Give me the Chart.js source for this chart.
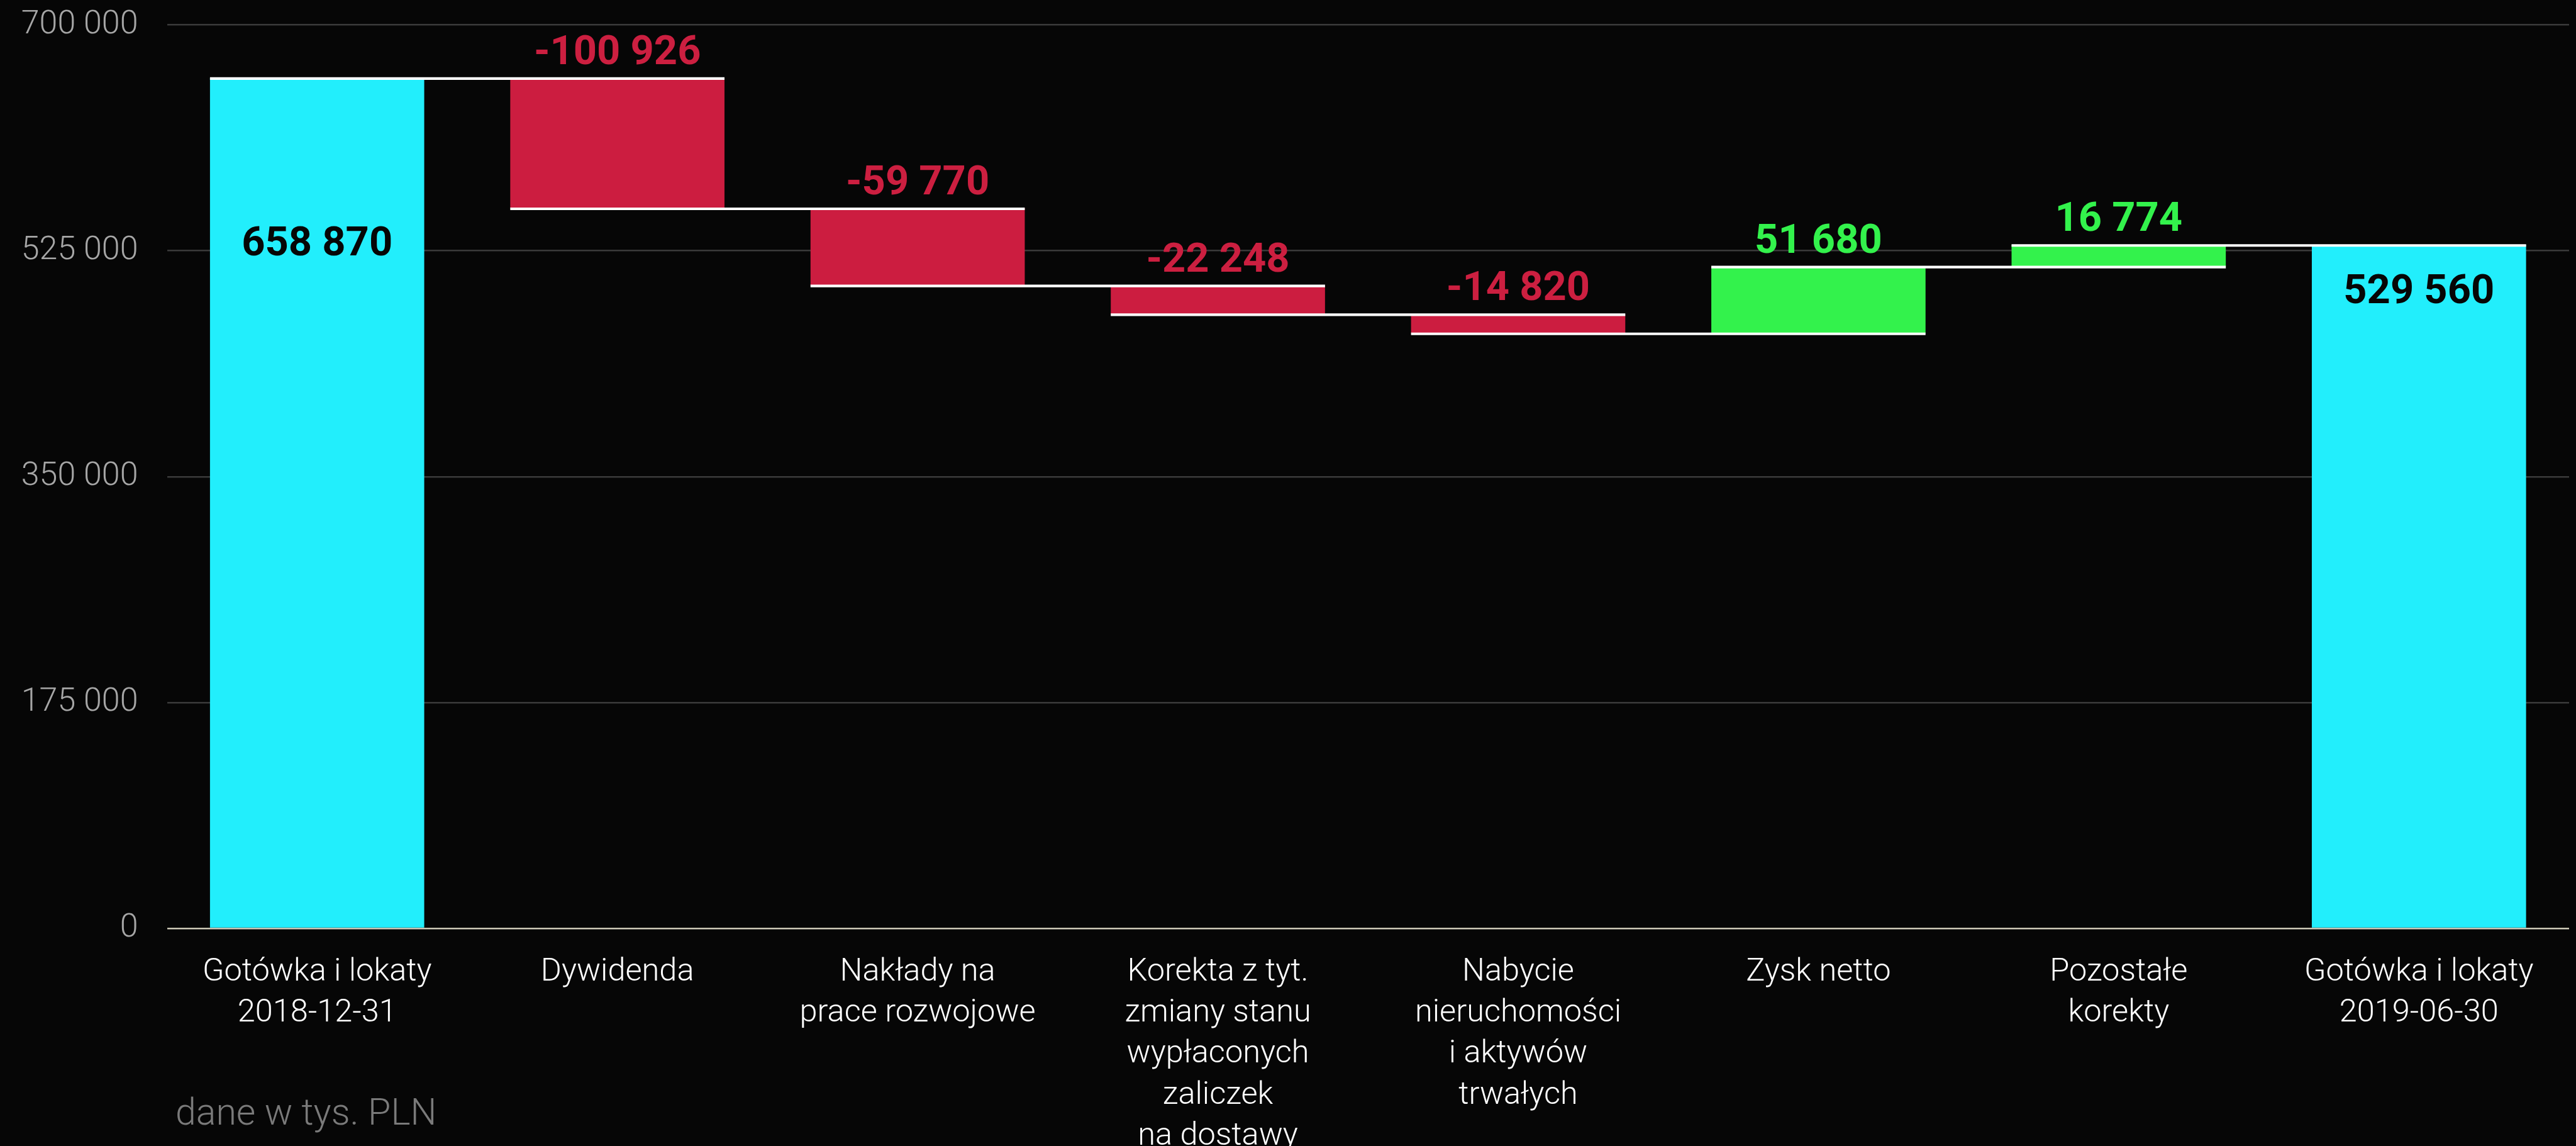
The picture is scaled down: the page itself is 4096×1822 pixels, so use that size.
<!DOCTYPE html>
<html><head><meta charset="utf-8">
<script src="https://cdn.jsdelivr.net/npm/chart.js@4.4.1/dist/chart.umd.min.js"></script>
<style>html,body{margin:0;padding:0;background:#060606;overflow:hidden}canvas{display:block}</style>
</head><body><canvas id="c" width="4096" height="1822"></canvas>
<script>
const categories = [
  ["Gotówka i lokaty", "2018-12-31"],
  ["Dywidenda"],
  ["Nakłady na", "prace rozwojowe"],
  ["Korekta z tyt.", "zmiany stanu", "wypłaconych", "zaliczek", "na dostawy"],
  ["Nabycie", "nieruchomości", "i aktywów", "trwałych"],
  ["Zysk netto"],
  ["Pozostałe", "korekty"],
  ["Gotówka i lokaty", "2019-06-30"]
];
const openingBalance = 658870;
const changes = [-100926, -59770, -22248, -14820, 51680, 16774];
const closingBalance = 529560;
const yTicks = [0, 175000, 350000, 525000, 700000];
const footnote = "dane w tys. PLN";

function fmt(v) {
  const s = String(Math.abs(Math.round(v))).replace(/\B(?=(\d{3})+(?!\d))/g, ' ');
  return (v < 0 ? '-' : '') + s;
}

const values = [openingBalance, ...changes, closingBalance];
const kinds = ['total', ...changes.map(() => 'change'), 'total'];
const ranges = [];
const ends = [];
let run = 0;
values.forEach((v, i) => {
  if (kinds[i] === 'total') { ranges.push([0, v]); run = v; }
  else { ranges.push([run, run + v]); run += v; }
  ends.push(run);
});

const COL_TOTAL = '#22EEFC', COL_NEG = '#CC1D40', COL_POS = '#33F24C';
const colors = values.map((v, i) => kinds[i] === 'total' ? COL_TOTAL : (v < 0 ? COL_NEG : COL_POS));

const waterfallPlugin = {
  id: 'waterfall',
  afterDatasetsDraw(chart) {
    const ctx = chart.ctx;
    const y = chart.scales.y;
    const meta = chart.getDatasetMeta(0);
    ctx.save();
    ctx.strokeStyle = '#ffffff';
    ctx.lineWidth = 4.2;
    for (let i = 0; i < meta.data.length - 1; i++) {
      const a = meta.data[i], b = meta.data[i + 1];
      const py = y.getPixelForValue(ends[i]) + 1;
      ctx.beginPath();
      ctx.moveTo(a.x - a.width / 2, py);
      ctx.lineTo(b.x + b.width / 2, py);
      ctx.stroke();
    }
    ctx.font = 'bold 65px Roboto';
    ctx.textAlign = 'center';
    ctx.textBaseline = 'alphabetic';
    const totalOffsets = [282, 93];
    let ti = 0;
    meta.data.forEach((el, i) => {
      const top = Math.min(el.y, el.base);
      if (kinds[i] === 'total') {
        ctx.fillStyle = '#060606';
        ctx.fillText(fmt(values[i]), el.x, top + totalOffsets[ti++]);
      } else {
        ctx.fillStyle = values[i] < 0 ? '#CC1F40' : COL_POS;
        ctx.fillText(fmt(values[i]), el.x, top - 22);
      }
    });
    ctx.restore();
  },
  afterDraw(chart) {
    const ctx = chart.ctx;
    ctx.save();
    ctx.font = '300 59px Roboto';
    ctx.fillStyle = '#7A7A7A';
    ctx.textAlign = 'left';
    ctx.textBaseline = 'alphabetic';
    ctx.fillText(footnote, 279, 1788);
    ctx.restore();
  }
};

new Chart(document.getElementById('c'), {
  type: 'bar',
  data: {
    labels: categories,
    datasets: [{
      data: ranges,
      backgroundColor: colors,
      borderWidth: 0,
      borderSkipped: false,
      barPercentage: 0.7135,
      categoryPercentage: 1
    }]
  },
  options: {
    responsive: false,
    devicePixelRatio: 1,
    animation: false,
    events: [],
    layout: { padding: { top: 39.5, right: 11, left: 0, bottom: 0 } },
    plugins: { legend: { display: false }, tooltip: { enabled: false } },
    scales: {
      x: {
        grid: { display: false },
        border: { display: false },
        ticks: {
          color: '#ffffff',
          font: { family: 'Roboto', size: 50.5, weight: 300, lineHeight: 1.29 },
          padding: 30, maxRotation: 0, minRotation: 0, autoSkip: false
        },
        afterFit(s) { s.height = 346; s.paddingLeft = 0; s.paddingRight = 0; }
      },
      y: {
        min: 0, max: 700000,
        afterBuildTicks(s) { s.ticks = yTicks.map(v => ({ value: v })); },
        grid: {
          color: c => (c.tick && c.tick.value === 0) ? '#CCC8B6' : '#3A3A3A',
          lineWidth: 2.5,
          drawTicks: false
        },
        border: { display: false },
        ticks: {
          color: '#A6A6A6',
          font: { family: 'Roboto', size: 52, weight: 300 },
          padding: 46,
          callback: v => fmt(v)
        },
        afterFit(s) { s.width = 265.5; s.paddingTop = 0; s.paddingBottom = 0; }
      }
    }
  },
  plugins: [waterfallPlugin]
});
</script>
</body></html>
